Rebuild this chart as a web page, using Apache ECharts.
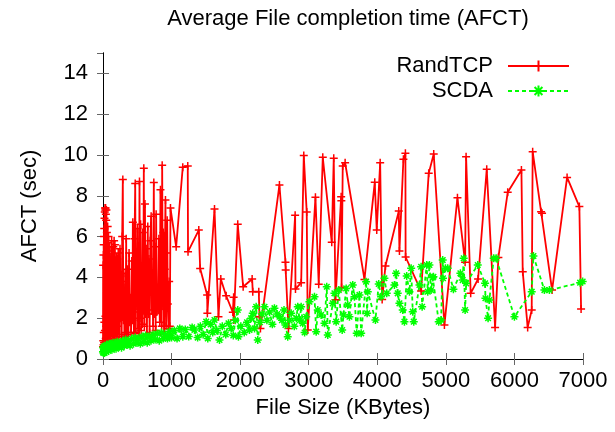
<!DOCTYPE html>
<html>
<head>
<meta charset="utf-8">
<script src="https://cdn.jsdelivr.net/npm/echarts@6/dist/echarts.min.js"></script>
<style>html,body{margin:0;padding:0;background:#fff}#c{width:615px;height:432px}</style>
</head>
<body>
<div id="c"></div>
<script>
// ---- data (File size in KBytes, AFCT in sec) ----
const randtcp = [
[0,0.6],[2,4.6],[4,0.9],[6,5.1],[8,0.7],[10,5.6],[12,1.3],[14,6.0],[16,0.8],[18,6.4],[20,1.8],[22,6.9],[24,0.9],[26,7.2],[28,1.4],[30,7.4],[32,0.8],[34,7.3],[36,2.1],[38,7.4],[40,1.0],[42,7.1],[44,0.7],[46,6.8],[48,1.6],[50,7.3],[53,0.9],[56,6.2],[59,1.2],[62,5.7],[65,0.8],[68,6.5],[71,1.5],[74,5.3],[77,0.9],[80,6.0],[84,1.8],[88,4.8],[92,0.9],[96,5.5],[100,1.2],[105,4.6],[110,0.8],[115,5.0],[120,1.4],[126,5.8],[132,1.1],[138,4.2],[144,0.8],[150,5.5],[156,1.7],[162,5.8],[168,1.0],[174,5.6],[180,2.2],[186,4.0],[192,1.1],[198,5.0],[204,1.6],[210,4.9],[216,0.9],
[222,5.2],[228,1.9],[234,4.1],[240,1.2],[248,5.4],[256,2.0],[264,3.8],[272,1.1],[280,6.0],[289,8.8],[296,1.9],[304,4.2],[312,1.1],[320,3.5],[328,1.3],[338,5.9],[346,1.2],[354,4.4],[362,2.6],[370,1.2],[380,5.2],[390,1.8],[400,3.0],[410,1.3],[420,4.8],[430,1.9],[435,6.7],[445,2.3],[452,1.3],[460,5.9],[470,8.6],[478,1.25],[486,5.0],[494,2.6],[502,6.4],[510,1.5],[518,3.8],[526,1.1],[532,8.7],[540,2.0],[548,6.6],[556,1.4],[564,4.0],[572,1.7],[580,6.2],[588,2.4],[595,9.35],[603,1.6],[612,7.6],[620,2.2],[630,5.4],[640,1.2],[653,6.5],[662,2.2],[670,4.9],[680,1.3],[690,5.8],[702,7.0],[712,2.4],[722,3.8],[730,1.6],[741,8.65],[750,2.2],[760,5.5],[768,1.4],[775,7.1],[785,2.3],[795,3.5],[805,2.4],[815,5.9],[828,1.8],[838,8.3],[846,3.3],[856,1.6],[863,9.5],[872,2.6],[880,6.2],[890,1.2],[900,4.4],[911,7.8],[920,1.6],[928,5.2],[936,6.8],[945,2.7],[955,1.5],[965,3.8],[975,1.6],[984,7.4],[1067,5.5],[1163,9.4],[1236,9.46],[1240,5.26],
[1397,6.32],[1417,4.44],[1519,3.14],[1522,2.24],[1626,7.35],[1684,2.07],[1718,3.92],[1796,3.1],[1893,2.29],[1905,3.03],[1908,1.91],[1965,6.6],[2044,3.54],[2175,3.92],[2184,3.3],[2272,3.3],[2282,2.07],[2296,1.5],[2573,8.53],[2661,4.74],[2664,4.36],[2705,1.5],[2802,7.05],[2807,3.43],[2890,3.74],[2928,9.97],[2971,7.2],[2986,1.42],[3098,7.93],[3146,3.66],[3205,9.89],[3336,5.72],[3365,9.84],[3390,2.9],[3473,7.95],[3476,7.76],[3479,3.5],[3496,9.46],[3531,9.62],[3813,3.9],[3963,8.66],[3992,6.32],[4042,9.62],[4071,2.92],[4119,4.56],[4313,7.25],[4323,5.29],[4381,9.79],[4410,10.08],[4413,5.0],[4639,3.33],[4750,9.1],[4823,10.05],[4979,1.67],[5169,7.9],[5281,4.74],[5295,9.92],[5362,3.22],[5470,3.92],[5596,9.3],[5718,1.55],[5766,4.98],[5902,8.17],[6102,9.26],[6121,4.28],[6193,1.55],[6252,2.4],[6266,10.16],[6389,7.22],[6403,7.14],[6549,3.38],[6768,8.9],[6947,7.47],[6972,2.45]
];
const scda = [
[0,0.35],[3,0.55],[6,0.3],[10,0.6],[14,0.4],[18,0.5],[22,0.3],[28,0.65],[34,0.4],[40,0.55],[48,0.35],[55,0.7],[62,0.45],[70,0.6],[80,0.4],[90,0.75],[100,0.5],[115,0.7],[130,0.45],[145,0.8],[160,0.55],[175,0.75],[190,0.5],[210,0.85],[230,0.6],[250,0.8],[270,0.55],[290,0.9],[310,0.65],[330,0.95],[350,0.7],[370,0.9],[395,0.65],[420,1.0],[445,0.75],[470,1.05],[495,0.8],[520,1.0],[545,0.75],[570,1.1],[595,0.85],[620,1.15],[645,0.8],[670,1.1],[700,0.9],[730,1.2],[760,0.95],[790,1.25],[820,0.9],[850,1.3],[880,1.0],[910,1.2],[940,1.0],[970,1.35],[1000,1.05],[1040,1.4],[1080,1.0],[1120,1.5],[1164,1.09],[1200,1.45],[1250,1.1],[1300,1.55],[1334,1.42],[1380,1.05],[1420,1.6],[1460,1.2],[1505,1.83],[1528,1.01],[1570,1.7],[1600,1.3],[1626,1.91],[1660,1.4],[1699,0.93],[1740,1.6],[1790,1.2],[1830,1.75],[1869,1.5],[1900,1.15],[1930,1.9],[1965,2.4],[1975,1.09],[2010,1.6],[2060,1.3],[2100,1.8],[2136,1.42],[2160,2.0],[2184,2.24],[2210,1.5],[2234,2.56],[2257,0.93],[2290,1.8],[2320,2.2],[2355,2.56],[2390,1.9],[2430,2.3],[2470,1.7],[2500,2.49],[2540,2.2],[2573,2.07],[2610,1.9],[2640,2.4],[2661,1.67],[2694,1.09],[2720,1.9],[2744,2.24],[2790,1.6],[2820,2.0],[2840,2.56],[2870,1.9],[2890,2.56],[2913,1.75],[2940,1.3],
[2963,2.07],[3011,2.81],[3084,3.05],[3109,1.34],[3132,2.4],[3181,2.16],[3230,1.75],[3263,3.54],[3278,1.18],[3351,2.73],[3375,3.22],[3400,1.83],[3438,3.38],[3488,1.42],[3507,2.16],[3546,3.46],[3569,2.65],[3594,2.07],[3642,3.63],[3667,3.05],[3700,1.26],[3740,3.14],[3765,1.26],[3837,3.79],[3852,2.24],[3861,3.3],[3973,1.91],[4021,3.68],[4056,3.05],[4104,3.96],[4138,3.22],[4250,3.63],[4275,4.2],[4298,3.22],[4323,2.73],[4371,2.4],[4396,1.83],[4429,4.07],[4469,3.3],[4494,4.45],[4517,2.32],[4532,1.83],[4615,3.63],[4639,4.52],[4654,2.56],[4721,4.61],[4736,3.3],[4760,4.61],[4785,3.38],[4809,3.99],[4819,4.03],[4896,1.83],[4931,1.91],[4954,4.85],[4958,3.96],[4994,4.45],[5027,4.45],[5110,3.42],[5212,4.2],[5246,3.87],[5260,4.94],[5281,2.4],[5296,3.71],[5465,4.61],[5572,3.71],[5577,2.98],[5616,2.0],[5635,2.89],[5698,4.94],[5733,4.94],[6000,2.07],[6252,3.3],[6277,5.05],[6437,3.38],[6510,3.38],[6958,3.74],[6995,3.8]
];
const seriesNames = ['RandTCP', 'SCDA'];
const xTicks = {min: 0, max: 7000, interval: 1000};
const yTicks = {min: 0, max: 15, interval: 2};

const FONT = 'Liberation Sans, Arial, sans-serif';
const plus = 'path://M0,5L10,5M5,0L5,10';
const star = 'path://M0,5L10,5M5,0L5,10M1.5,1.5L8.5,8.5M8.5,1.5L1.5,8.5';

const axisCommon = {
  axisLine: {show: true, lineStyle: {color: '#000', width: 1}},
  axisTick: {show: true, inside: true, length: 6, lineStyle: {color: '#666', width: 1}},
  splitLine: {show: false},
};
const plain = v => String(v);

const chart = echarts.init(document.getElementById('c'), null, {renderer: 'canvas'});
chart.setOption({
  animation: false,
  backgroundColor: '#fff',
  textStyle: {fontFamily: FONT},
  title: {
    text: 'Average File completion time (AFCT)',
    left: 343, textAlign: 'center', top: 3,
    textStyle: {fontFamily: FONT, fontSize: 22, fontWeight: 'normal', color: '#000'}
  },
  legend: [
    {data: [seriesNames[0]], right: 40, top: 50, align: 'right', itemWidth: 61, itemHeight: 14,
     textStyle: {fontFamily: FONT, fontSize: 22, color: '#000', padding: [0, 10, 0, 0]}},
    {data: [seriesNames[1]], right: 40, top: 75, align: 'right', itemWidth: 61, itemHeight: 14,
     textStyle: {fontFamily: FONT, fontSize: 22, color: '#000', padding: [0, 10, 0, 0]}}
  ],
  grid: {left: 103, right: 32, top: 53, bottom: 73, containLabel: false},
  xAxis: [
    Object.assign({type: 'value', position: 'bottom', min: xTicks.min, max: xTicks.max, interval: xTicks.interval,
      name: 'File Size (KBytes)', nameLocation: 'middle', nameGap: 37,
      nameTextStyle: {fontFamily: FONT, fontSize: 22, color: '#000'},
      axisLabel: {fontFamily: FONT, fontSize: 22, color: '#000', margin: 11, formatter: plain}}, axisCommon),
    Object.assign({type: 'value', position: 'top', min: xTicks.min, max: xTicks.max, interval: xTicks.interval,
      axisLabel: {show: false}}, axisCommon)
  ],
  yAxis: [
    Object.assign({type: 'value', position: 'left', min: yTicks.min, max: yTicks.max, interval: yTicks.interval,
      name: 'AFCT (sec)', nameLocation: 'middle', nameGap: 62, nameRotate: 90,
      nameTextStyle: {fontFamily: FONT, fontSize: 22, color: '#000'},
      axisLabel: {fontFamily: FONT, fontSize: 22, color: '#000', margin: 15, showMaxLabel: false, formatter: plain}}, axisCommon),
    Object.assign({type: 'value', position: 'right', min: yTicks.min, max: yTicks.max, interval: yTicks.interval,
      axisLabel: {show: false}}, axisCommon)
  ],
  series: [
    {name: seriesNames[0], type: 'line', data: randtcp, xAxisIndex: 0, yAxisIndex: 0,
     symbol: plus, symbolSize: 8, showSymbol: true, showAllSymbol: true,
     lineStyle: {color: '#ff0000', width: 1.8},
     itemStyle: {color: '#ff0000', borderColor: '#ff0000', borderWidth: 1.5},
     emphasis: {disabled: true}},
    {name: seriesNames[1], type: 'line', data: scda, xAxisIndex: 0, yAxisIndex: 0,
     symbol: star, symbolSize: 8, showSymbol: true, showAllSymbol: true,
     lineStyle: {color: '#00ff00', width: 1.8, type: [4, 3]},
     itemStyle: {color: '#00ff00', borderColor: '#00ff00', borderWidth: 1.5},
     emphasis: {disabled: true}}
  ]
});
</script>
</body>
</html>
